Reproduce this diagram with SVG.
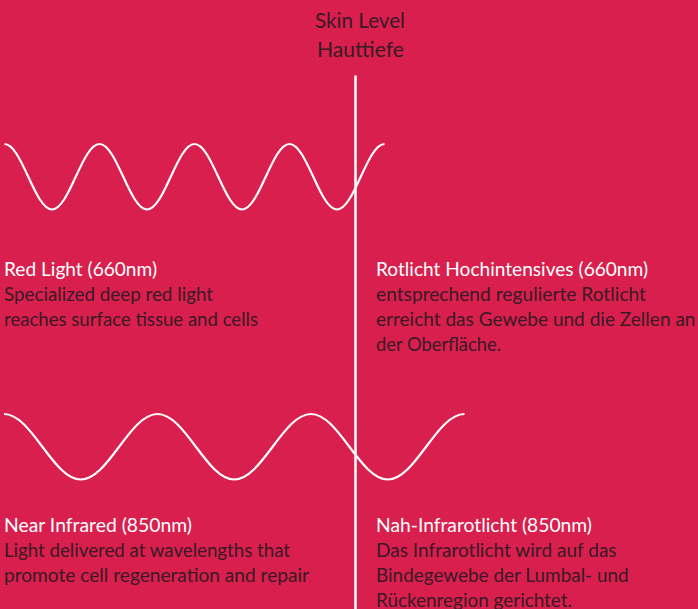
<svg xmlns="http://www.w3.org/2000/svg" width="698" height="609" viewBox="0 0 698 609">
  <style>
    .bg { fill: #D91F4E; }
    .wave { fill: none; stroke: #FFFFFF; stroke-width: 2.2; stroke-linecap: butt; }
    .axis { stroke: #FFFFFF; stroke-width: 2.5; }
    text { font-family: Lato, "Liberation Sans", sans-serif; font-size: 18.5px; font-weight: 400; }
    .title { fill: #FFFFFF; }
    .body { fill: #3A1A24; }
    .head { fill: #3A1A24; font-size: 21px; text-anchor: middle; }
  </style>
  <rect class="bg" x="0" y="0" width="698" height="609"/>

  <g id="header">
    <text class="head" x="360" y="27.5" textLength="90" lengthAdjust="spacingAndGlyphs">Skin Level</text>
    <text class="head" x="360.5" y="56.5" textLength="87" lengthAdjust="spacingAndGlyphs">Hauttiefe</text>
  </g>

  <g id="connectors">
    <line class="axis" x1="355.5" y1="75.5" x2="355.5" y2="609"/>
  </g>

  <g id="red-wave">
    <path class="wave" d="M4.5,144 C21.76,144 34.74,209.5 52,209.5 S82.24,144 99.5,144 S129.74,209.5 147,209.5 S177.24,144 194.5,144 S224.74,209.5 242,209.5 S272.24,144 289.5,144 S319.74,209.5 337,209.5 S367.24,144 384.5,144"/>
  </g>

  <g id="nir-wave">
    <path class="wave" d="M4,414 C31.89,414 52.86,479.5 80.75,479.5 S129.61,414 157.5,414 S206.36,479.5 234.25,479.5 S283.11,414 311,414 S359.86,479.5 387.75,479.5 S436.61,414 464.5,414"/>
  </g>

  <g id="red-en">
    <text class="title" x="4" y="275.5" textLength="153" lengthAdjust="spacingAndGlyphs">Red Light (660nm)</text>
    <text class="body" x="4" y="300.5" textLength="209" lengthAdjust="spacingAndGlyphs">Specialized deep red light</text>
    <text class="body" x="4" y="325.5" textLength="254" lengthAdjust="spacingAndGlyphs">reaches surface tissue and cells</text>
  </g>

  <g id="red-de">
    <text class="title" x="376" y="275.5" textLength="272" lengthAdjust="spacingAndGlyphs">Rotlicht Hochintensives (660nm)</text>
    <text class="body" x="376" y="300.5" textLength="270" lengthAdjust="spacingAndGlyphs">entsprechend regulierte Rotlicht</text>
    <text class="body" x="376" y="325.5" textLength="319.5" lengthAdjust="spacingAndGlyphs">erreicht das Gewebe und die Zellen an</text>
    <text class="body" x="376" y="350.5" textLength="125" lengthAdjust="spacingAndGlyphs">der Oberfläche.</text>
  </g>

  <g id="nir-en">
    <text class="title" x="4" y="531.5" textLength="188" lengthAdjust="spacingAndGlyphs">Near Infrared (850nm)</text>
    <text class="body" x="4" y="556.5" textLength="286" lengthAdjust="spacingAndGlyphs">Light delivered at wavelengths that</text>
    <text class="body" x="4" y="581.5" textLength="305" lengthAdjust="spacingAndGlyphs">promote cell regeneration and repair</text>
  </g>

  <g id="nir-de">
    <text class="title" x="376" y="531.5" textLength="216" lengthAdjust="spacingAndGlyphs">Nah-Infrarotlicht (850nm)</text>
    <text class="body" x="376" y="556.5" textLength="240.6" lengthAdjust="spacingAndGlyphs">Das Infrarotlicht wird auf das</text>
    <text class="body" x="376" y="581.5" textLength="252.7" lengthAdjust="spacingAndGlyphs">Bindegewebe der Lumbal- und</text>
    <text class="body" x="376" y="606.5" textLength="196" lengthAdjust="spacingAndGlyphs">Rückenregion gerichtet.</text>
  </g>
</svg>
